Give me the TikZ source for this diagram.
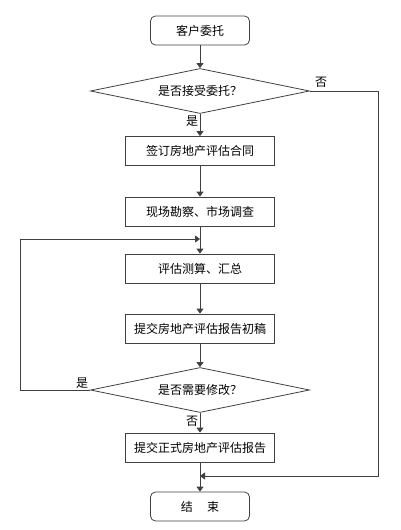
\documentclass[tikz,border=0pt]{standalone}
\usepackage{fontspec}
\newfontfamily\cjk{Noto Sans CJK SC}
\usetikzlibrary{shapes.geometric,arrows.meta}
\begin{document}
\begin{tikzpicture}[x=1pt,y=-1pt,
  line width=0.8pt,
  every node/.style={font=\cjk\fontsize{12}{14}\selectfont, text=black},
  term/.style={draw=black!75, rounded corners=5pt, minimum width=99pt, minimum height=29pt, inner sep=0pt},
  proc/.style={draw=black!75, minimum width=149pt, minimum height=29pt, inner sep=0pt},
  dec/.style={draw=black!75, diamond, aspect=4.85, minimum width=219pt, minimum height=45pt, inner sep=0pt},
  flow/.style={draw=black!75, -{Triangle[width=7pt,length=5pt]}},
  lbl/.style={inner sep=0pt}
]
\useasboundingbox (0,0) rectangle (400,530);
\node[term] (start) at (200,30.5) {客户委托};
\node[dec] (d1) at (200,91) {是否接受委托？};
\node[proc] (b1) at (200,151) {签订房地产评估合同};
\node[proc] (b2) at (200,211.5) {现场勘察、市场调查};
\node[proc] (b3) at (200,268.5) {评估测算、汇总};
\node[proc] (b4) at (200,328.5) {提交房地产评估报告初稿};
\node[dec] (d2) at (200,390) {是否需要修改？};
\node[proc] (b5) at (200,447.5) {提交正式房地产评估报告};
\node[term] (end) at (200,506.5) {结\hspace{1.2em}束};
\coordinate (m2) at (200,239);
\coordinate (l1) at (20,390);
\coordinate (l2) at (20,239);
\coordinate (r1) at (378,91);
\coordinate (r2) at (378,476);
\coordinate (m1) at (200,476);
\draw[flow] (start) -- (d1);
\draw[flow] (d1) -- (b1);
\draw[flow] (b1) -- (b2);
\draw[flow] (b2) -- (b3);
\draw[flow] (b3) -- (b4);
\draw[flow] (b4) -- (d2);
\draw[flow] (d2) -- (b5);
\draw[flow] (b5) -- (end);
\draw[flow] (d2.west) -- (l1) -- (l2) -- (m2);
\draw[flow] (d1.east) -- (r1) -- (r2) -- (m1);
\node[lbl] (yes1) at (192,121) {是};
\node[lbl] (no1) at (321,82) {否};
\node[lbl] (yes2) at (82,383) {是};
\node[lbl] (no2) at (192,421) {否};
\end{tikzpicture}
\end{document}
